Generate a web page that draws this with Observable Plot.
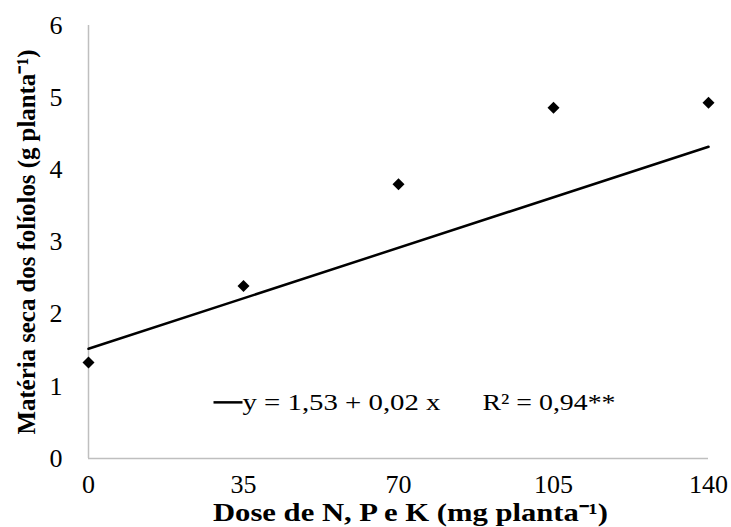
<!DOCTYPE html>
<html>
<head>
<meta charset="utf-8">
<script src="https://cdn.jsdelivr.net/npm/d3@7"></script>
<script src="https://cdn.jsdelivr.net/npm/@observablehq/plot@0.6"></script>
<style>
  html, body { margin: 0; padding: 0; background: #fff; }
  #chart { width: 731px; height: 527px; }
</style>
</head>
<body>
<div id="chart"></div>
<script>
// Data
const doses = [0, 35, 70, 105, 140];
const materiaSeca = [1.33, 2.39, 3.80, 4.86, 4.93];
const fitX = [0, 140];
const fitY = [1.52, 4.32];
const xTicks = [0, 35, 70, 105, 140];
const yTicks = [0, 1, 2, 3, 4, 5, 6];
const xLabel = "Dose de N, P e K (mg planta⁻¹)";
const yLabel = "Matéria seca dos folíolos (g planta⁻¹)";
const legendEq = "y = 1,53 + 0,02 x";
const legendR2 = "R² = 0,94**";

const points = doses.map((d, i) => ({x: d, y: materiaSeca[i]}));
const fit = fitX.map((d, i) => ({x: d, y: fitY[i]}));

const font = "'Liberation Serif', 'Times New Roman', serif";

const plot = Plot.plot({
  width: 731,
  height: 527,
  marginLeft: 88,
  marginRight: 23,
  marginTop: 25,
  marginBottom: 69,
  style: {fontFamily: font, fontSize: "24px", color: "#000", background: "#fff", overflow: "visible"},
  x: {domain: [0, 140], ticks: xTicks},
  y: {domain: [0, 6], ticks: yTicks},
  marks: [
    Plot.axisX({ticks: xTicks, tickSize: 0, tickPadding: 16, label: null, fontSize: 26, tickFormat: "d"}),
    Plot.axisY({ticks: yTicks, tickSize: 0, tickPadding: 26, label: null, fontSize: 26, tickFormat: "d"}),
    Plot.ruleX([0], {stroke: "#bfbfbf", strokeWidth: 1.5}),
    Plot.ruleY([0], {stroke: "#bfbfbf", strokeWidth: 1.5}),
    Plot.line(fit, {x: "x", y: "y", stroke: "#000", strokeWidth: 2.5}),
    Plot.dot(points, {x: "x", y: "y", symbol: "diamond2", r: 5.4, fill: "#000", stroke: "none"}),
    Plot.text([legendEq], {frameAnchor: "bottom-left", dx: 154, dy: -56, textAnchor: "start", lineAnchor: "middle", fontSize: 23, fill: "#000"}),
    Plot.text([legendR2], {frameAnchor: "bottom-left", dx: 394, dy: -56, textAnchor: "start", lineAnchor: "middle", fontSize: 23, fill: "#000"}),
    Plot.text([xLabel], {frameAnchor: "bottom", dx: 12, dy: 54, textAnchor: "middle", lineAnchor: "middle", fontSize: 25, fontWeight: "bold", fill: "#000"}),
    Plot.text([yLabel], {frameAnchor: "left", dx: -62, dy: 0, rotate: -90, textAnchor: "middle", lineAnchor: "middle", fontSize: 26, fontWeight: "bold", fill: "#000"})
  ]
});

document.getElementById("chart").appendChild(plot);
const svg = d3.select(plot);
const fitLengths = new Map([[legendEq, 198], [legendR2, 133], [xLabel, 395], [yLabel, 385]]);
svg.selectAll("text").each(function() {
  const len = fitLengths.get(this.textContent);
  if (len) {
    d3.select(this).attr("textLength", len).attr("lengthAdjust", "spacingAndGlyphs");
  }
});
// legend line sample, placed just left of the equation text
svg.selectAll("text").each(function() {
  if (this.textContent === legendEq) {
    const bb = this.getBBox();
    d3.select(this.parentNode).append("line")
      .attr("transform", this.getAttribute("transform"))
      .attr("x1", bb.x - 29).attr("x2", bb.x)
      .attr("y1", bb.y + bb.height * 0.5).attr("y2", bb.y + bb.height * 0.5)
      .attr("stroke", "#000").attr("stroke-width", 2.5);
  }
});
</script>
</body>
</html>
